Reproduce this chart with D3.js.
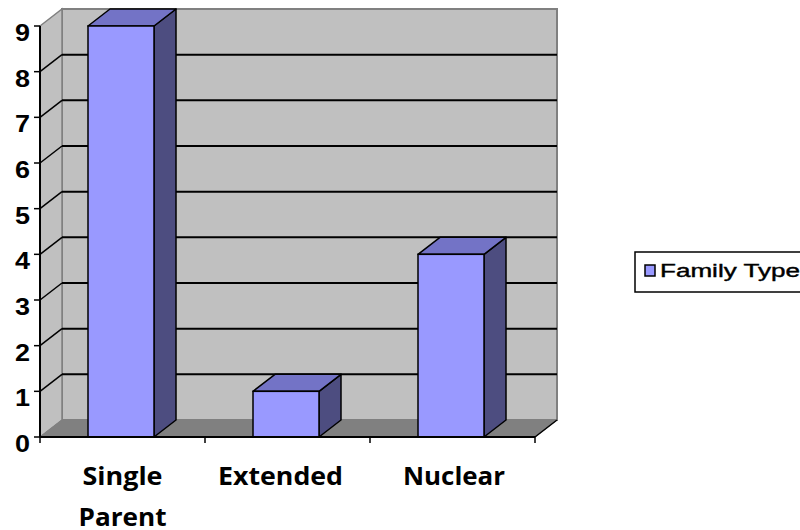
<!DOCTYPE html>
<html><head><meta charset="utf-8">
<script src="https://cdn.jsdelivr.net/npm/d3@7"></script>
<style>html,body{margin:0;padding:0;background:#fff;}svg{display:block;}</style>
</head><body>
<svg id="c" width="800" height="530"></svg>
<script>
const categories = ["Single Parent", "Extended", "Nuclear"];
const values = [9, 1, 4];
const yTicks = [0,1,2,3,4,5,6,7,8,9];
const seriesName = "Family Type";

const svg = d3.select("#c");
const x0 = 40, x1 = 535, yb = 437, yt = 26;
const dx = 22, dy = -17;
const x = d3.scaleBand().domain(categories).range([x0, x1]).padding(0);
const y = d3.scaleLinear().domain([0, 9]).range([yb, yt]);
const barW = x.bandwidth() * 0.4;
const poly = pts => pts.map(p => p.join(",")).join(" ");

// walls
svg.append("polygon").attr("points", poly([[x0+dx,y(9)+dy],[x1+dx,y(9)+dy],[x1+dx,yb+dy],[x0+dx,yb+dy]]))
  .attr("fill","#C0C0C0").attr("stroke","#808080").attr("stroke-width",2);
svg.append("polygon").attr("points", poly([[x0,y(9)],[x0+dx,y(9)+dy],[x0+dx,yb+dy],[x0,yb]]))
  .attr("fill","#C0C0C0").attr("stroke","#808080").attr("stroke-width",1.5);
svg.append("polygon").attr("points", poly([[x0,yb],[x1,yb],[x1+dx,yb+dy],[x0+dx,yb+dy]]))
  .attr("fill","#808080").attr("stroke","#808080").attr("stroke-width",1);

// gridlines
const grid = yTicks.filter(v => v > 0 && v < 9);
svg.selectAll(".gb").data(grid).enter().append("line")
  .attr("x1", x0+dx).attr("x2", x1+dx).attr("y1", d => y(d)+dy).attr("y2", d => y(d)+dy)
  .attr("stroke","#000").attr("stroke-width",2);
svg.selectAll(".gl").data(grid).enter().append("line")
  .attr("x1", x0).attr("x2", x0+dx).attr("y1", d => y(d)).attr("y2", d => y(d)+dy)
  .attr("stroke","#000").attr("stroke-width",1.5);

// bars
const g = svg.selectAll(".bar").data(categories.map((c,i)=>({c, v: values[i]}))).enter().append("g");
g.each(function(d){
  const gg = d3.select(this);
  const L = x(d.c) + (x.bandwidth()-barW)/2 - 1.5, R = L + barW, T = y(d.v), B = yb;
  gg.append("polygon").attr("points", poly([[R,T],[R+dx,T+dy],[R+dx,B+dy],[R,B]]))
    .attr("fill","#4D4D80").attr("stroke","#000").attr("stroke-width",1.5).attr("stroke-linejoin","round");
  gg.append("polygon").attr("points", poly([[L,T],[L+dx,T+dy],[R+dx,T+dy],[R,T]]))
    .attr("fill","#7373C6").attr("stroke","#000").attr("stroke-width",1.5).attr("stroke-linejoin","round");
  gg.append("rect").attr("x",L).attr("y",T).attr("width",barW).attr("height",B-T)
    .attr("fill","#9999FF").attr("stroke","#000").attr("stroke-width",1.5);
});

// y axis
svg.append("line").attr("x1",x0).attr("x2",x0).attr("y1",yb).attr("y2",yt).attr("stroke","#000").attr("stroke-width",2);
svg.selectAll(".yt").data(yTicks).enter().append("line")
  .attr("x1",x0-6).attr("x2",x0).attr("y1",d=>y(d)).attr("y2",d=>y(d)).attr("stroke","#000").attr("stroke-width",1.5);
svg.selectAll(".yl").data(yTicks).enter().append("text")
  .attr("x",30).attr("y",d=>y(d)+15).attr("text-anchor","end")
  .attr("font-family","Liberation Sans, Arial, sans-serif").attr("font-weight","bold").attr("font-size",24)
  .attr("textLength",15).attr("lengthAdjust","spacingAndGlyphs")
  .text(d=>d);

// x axis
svg.append("line").attr("x1",x0).attr("x2",x1).attr("y1",yb).attr("y2",yb).attr("stroke","#000").attr("stroke-width",2);
svg.append("line").attr("x1",x1).attr("x2",x1+dx).attr("y1",yb).attr("y2",yb+dy).attr("stroke","#000").attr("stroke-width",1.5);
const xt = [x0].concat(categories.map(c => x(c)+x.bandwidth()));
svg.selectAll(".xt").data(xt).enter().append("line")
  .attr("x1",d=>d).attr("x2",d=>d).attr("y1",yb).attr("y2",yb+6).attr("stroke","#000").attr("stroke-width",1.5);

const lineW = {"Single":80,"Parent":88,"Extended":125,"Nuclear":102};
const labelShift = [0, -7, 1.5];
categories.forEach((c,i) => {
  const words = c.split(" ");
  words.forEach((w,j) => {
    svg.append("text").attr("x", x(c)+x.bandwidth()/2 + labelShift[i]).attr("y", 485 + j*41)
      .attr("text-anchor","middle")
      .attr("font-family","Open Sans, Noto Sans, sans-serif").attr("font-weight","bold").attr("font-size",25)
      .attr("textLength", lineW[w]).attr("lengthAdjust","spacingAndGlyphs")
      .text(w);
  });
});

// legend
svg.append("rect").attr("x",635).attr("y",252).attr("width",175).attr("height",40)
  .attr("fill","#fff").attr("stroke","#000").attr("stroke-width",1.5);
svg.append("rect").attr("x",645).attr("y",265).attr("width",10).attr("height",11)
  .attr("fill","#9999FF").attr("stroke","#000").attr("stroke-width",1.5);
svg.append("text").attr("x",660).attr("y",277)
  .attr("font-family","Liberation Sans, Arial, sans-serif").attr("font-size",18)
  .attr("stroke","#000").attr("stroke-width",0.4)
  .attr("textLength",140).attr("lengthAdjust","spacingAndGlyphs")
  .text(seriesName);
</script>
</body></html>
